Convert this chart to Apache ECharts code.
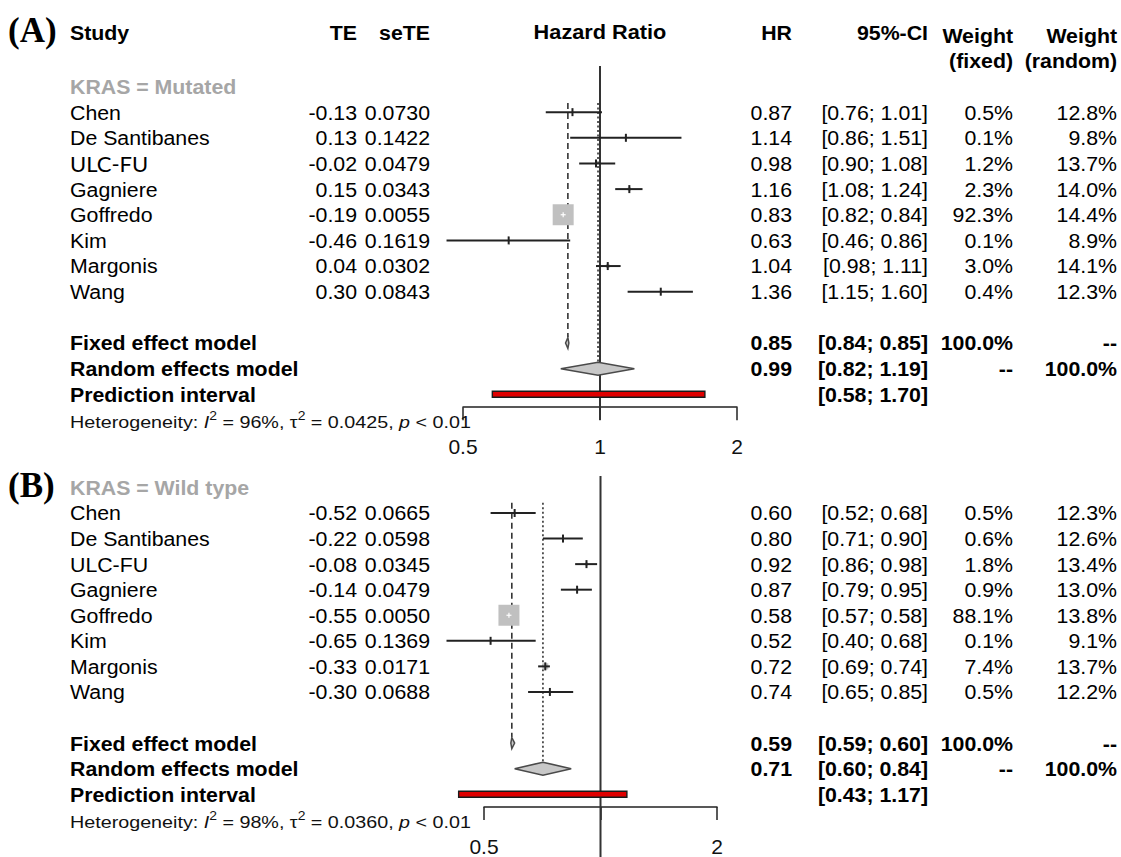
<!DOCTYPE html>
<html><head><meta charset="utf-8">
<script src="https://cdn.jsdelivr.net/npm/echarts@6/dist/echarts.min.js"></script>
<style>html,body{margin:0;padding:0;background:#fff}#c{width:1121px;height:857px}</style>
</head><body><div id="c"></div><script>
// ---------------- DATA ----------------
const studies = ['Chen', 'De Santibanes', 'ULC-FU', 'Gagniere', 'Goffredo', 'Kim', 'Margonis', 'Wang'];
const groupLabels = ['KRAS = Mutated', 'KRAS = Wild type'];
const panelTags = ['(A)', '(B)'];
const headerTexts = ['Study', 'TE', 'seTE', 'Hazard Ratio', 'HR', '95%-CI', 'Weight', '(fixed)', 'Weight', '(random)'];
const summaryLabels = ['Fixed effect model', 'Random effects model', 'Prediction interval'];

// KRAS = Mutated
const mutTE = [-0.13, 0.13, -0.02, 0.15, -0.19, -0.46, 0.04, 0.30];
const mutSeTE = [0.0730, 0.1422, 0.0479, 0.0343, 0.0055, 0.1619, 0.0302, 0.0843];
const mutHR = [0.87, 1.14, 0.98, 1.16, 0.83, 0.63, 1.04, 1.36];
const mutLo = [0.76, 0.86, 0.90, 1.08, 0.82, 0.46, 0.98, 1.15];
const mutHi = [1.01, 1.51, 1.08, 1.24, 0.84, 0.86, 1.11, 1.60];
const mutWFixed = [0.5, 0.1, 1.2, 2.3, 92.3, 0.1, 3.0, 0.4];
const mutWRandom = [12.8, 9.8, 13.7, 14.0, 14.4, 8.9, 14.1, 12.3];
const mutFixed = [0.85, 0.84, 0.85];
const mutRandom = [0.99, 0.82, 1.19];
const mutPred = [0.58, 1.70];
const mutHet = ['96%', '0.0425', '< 0.01'];

// KRAS = Wild type
const wildTE = [-0.52, -0.22, -0.08, -0.14, -0.55, -0.65, -0.33, -0.30];
const wildSeTE = [0.0665, 0.0598, 0.0345, 0.0479, 0.0050, 0.1369, 0.0171, 0.0688];
const wildHR = [0.60, 0.80, 0.92, 0.87, 0.58, 0.52, 0.72, 0.74];
const wildLo = [0.52, 0.71, 0.86, 0.79, 0.57, 0.40, 0.69, 0.65];
const wildHi = [0.68, 0.90, 0.98, 0.95, 0.58, 0.68, 0.74, 0.85];
const wildWFixed = [0.5, 0.6, 1.8, 0.9, 88.1, 0.1, 7.4, 0.5];
const wildWRandom = [12.3, 12.6, 13.4, 13.0, 13.8, 9.1, 13.7, 12.2];
const wildFixed = [0.59, 0.59, 0.60];
const wildRandom = [0.71, 0.60, 0.84];
const wildPred = [0.43, 1.17];
const wildHet = ['98%', '0.0360', '< 0.01'];

const totalWeight = '100.0%';
const tickValues = [0.5, 1, 2];
const tickLabelsA = [0.5, 1, 2];
const tickLabelsB = [0.5, 2];

// ---------------- LAYOUT ----------------
const ROW = 25.65;
const FONT = '"Liberation Sans", Arial, Helvetica, sans-serif';
const FS = 21;
const SX = 1.015;
const COL = {tag: 8, study: 70, te: 357, se: 430, hr: 792, ci: 928, wf: 1013, wr: 1117};
const R_FIXED = 10, R_RANDOM = 11, R_PRED = 12, R_HET = 13.08;
const BOX_MAX = 21;

const panels = [
  {te: mutTE, se: mutSeTE, hr: mutHR, lo: mutLo, hi: mutHi, wf: mutWFixed, wr: mutWRandom,
   fixed: mutFixed, random: mutRandom, pred: mutPred, het: mutHet, group: groupLabels[0], tag: panelTags[0],
   header: true, tickLabels: tickLabelsA,
   y0: 86.5, yMin: -3, yMax: 12.5, left: 463, width: 274,
   nullTop: -0.8, nullBottom: 13.0, refTop: 0.64, tagRow: -2.2},
  {te: wildTE, se: wildSeTE, hr: wildHR, lo: wildLo, hi: wildHi, wf: wildWFixed, wr: wildWRandom,
   fixed: wildFixed, random: wildRandom, pred: wildPred, het: wildHet, group: groupLabels[1], tag: panelTags[1],
   header: false, tickLabels: tickLabelsB,
   y0: 487.5, yMin: -1, yMax: 12.5, left: 484, width: 233,
   nullTop: -0.45, nullBottom: 14.6, refTop: 0.6, tagRow: -0.08}
];

const fmtCI = (a, b) => '[' + a.toFixed(2) + '; ' + b.toFixed(2) + ']';

function buildTexts(p) {
  const T = [];
  const add = (row, x, text, o) => T.push(Object.assign({row, x, text}, o || {}));
  add(p.tagRow, COL.tag, p.tag, {family: '"Liberation Serif", "Times New Roman", serif', size: 35, bold: true, sx: 1});
  if (p.header) {
    const hr = -2.12;
    add(hr, COL.study, headerTexts[0], {bold: true});
    add(hr, COL.te, headerTexts[1], {bold: true, align: 'right'});
    add(hr, COL.se, headerTexts[2], {bold: true, align: 'right'});
    add(hr, null, headerTexts[3], {bold: true, align: 'center', atValue: 1, sx: 1.035});
    add(hr, COL.hr, headerTexts[4], {bold: true, align: 'right'});
    add(hr, COL.ci, headerTexts[5], {bold: true, align: 'right'});
    add(-2.0, COL.wf, headerTexts[6], {bold: true, align: 'right'});
    add(-1.0, COL.wf, headerTexts[7], {bold: true, align: 'right'});
    add(-2.0, COL.wr, headerTexts[8], {bold: true, align: 'right'});
    add(-1.0, COL.wr, headerTexts[9], {bold: true, align: 'right'});
  }
  add(0, COL.study, p.group, {bold: true, color: '#a6a6a6'});
  studies.forEach((s, i) => {
    const r = i + 1;
    const special = p.header && s === 'ULC-FU';
    add(r, COL.study, s, special ? {family: 'Lato, "Open Sans", sans-serif', size: 22, sx: 1} : {});
    add(r, COL.te, p.te[i].toFixed(2), {align: 'right'});
    add(r, COL.se, p.se[i].toFixed(4), {align: 'right'});
    add(r, COL.hr, p.hr[i].toFixed(2), {align: 'right'});
    add(r, COL.ci, fmtCI(p.lo[i], p.hi[i]), {align: 'right'});
    add(r, COL.wf, p.wf[i].toFixed(1) + '%', {align: 'right'});
    add(r, COL.wr, p.wr[i].toFixed(1) + '%', {align: 'right'});
  });
  add(R_FIXED, COL.study, summaryLabels[0], {bold: true});
  add(R_FIXED, COL.hr, p.fixed[0].toFixed(2), {bold: true, align: 'right'});
  add(R_FIXED, COL.ci, fmtCI(p.fixed[1], p.fixed[2]), {bold: true, align: 'right'});
  add(R_FIXED, COL.wf, totalWeight, {bold: true, align: 'right'});
  add(R_FIXED, COL.wr, '--', {bold: true, align: 'right'});
  add(R_RANDOM, COL.study, summaryLabels[1], {bold: true});
  add(R_RANDOM, COL.hr, p.random[0].toFixed(2), {bold: true, align: 'right'});
  add(R_RANDOM, COL.ci, fmtCI(p.random[1], p.random[2]), {bold: true, align: 'right'});
  add(R_RANDOM, COL.wf, '--', {bold: true, align: 'right'});
  add(R_RANDOM, COL.wr, totalWeight, {bold: true, align: 'right'});
  add(R_PRED, COL.study, summaryLabels[2], {bold: true});
  add(R_PRED, COL.ci, fmtCI(p.pred[0], p.pred[1]), {bold: true, align: 'right'});
  const hetText = '{n|Heterogeneity: }{i|I}{s|2}{n| = ' + p.het[0] + ', τ}{s|2}{n| = ' + p.het[1] + ', }{i|p}{n| ' + p.het[2] + '}';
  add(R_HET, COL.study, hetText, {sx: 1.16, rich: {
    n: {fontSize: 17, fontFamily: FONT, fill: '#111', lineHeight: 24},
    i: {fontSize: 17, fontFamily: FONT, fill: '#111', fontStyle: 'italic', lineHeight: 24},
    s: {fontSize: 12, fontFamily: FONT, fill: '#111', lineHeight: 12, verticalAlign: 'top'}
  }});
  return T;
}

// ---------------- RENDERERS ----------------
function refLineRender(params, api) {
  const x = api.value(0), t = api.value(1), b = api.value(2), k = api.value(3);
  const p1 = api.coord([x, t]), p2 = api.coord([x, b]);
  const y2 = k === 0 ? p2[1] : p2[1] - 6;
  const dash = k === 1 ? [6, 4] : (k === 2 ? [2, 2.5] : null);
  return {type: 'line', shape: {x1: p1[0], y1: p1[1], x2: p2[0], y2: y2},
    style: {stroke: '#333', lineWidth: k === 0 ? 2 : 1.6, lineDash: dash}};
}
function makeStudyRender(wMax) {
  return function (params, api) {
    const hr = api.value(0), lo = api.value(1), hi = api.value(2), row = api.value(3), w = api.value(4);
    const c = api.coord([hr, row]), a = api.coord([lo, row]), b = api.coord([hi, row]);
    const side = BOX_MAX * Math.sqrt(w / wMax);
    const inside = side > (b[0] - a[0]);
    const col = inside ? '#ffffff' : '#222';
    const tk = inside ? 2.5 : 4;
    const ch = [];
    if (side > 2) ch.push({type: 'rect', shape: {x: c[0] - side / 2, y: c[1] - side / 2, width: side, height: side}, style: {fill: '#c0c0c0'}});
    ch.push({type: 'line', shape: {x1: inside ? c[0] - 2.5 : a[0], y1: c[1], x2: inside ? c[0] + 2.5 : b[0], y2: c[1]}, style: {stroke: col, lineWidth: inside ? 1.2 : 2}});
    ch.push({type: 'line', shape: {x1: c[0], y1: c[1] - tk, x2: c[0], y2: c[1] + tk}, style: {stroke: col, lineWidth: inside ? 1.2 : 2}});
    return {type: 'group', children: ch};
  };
}
function diamondRender(params, api) {
  const e = api.coord([api.value(0), api.value(3)]), a = api.coord([api.value(1), api.value(3)]), b = api.coord([api.value(2), api.value(3)]);
  const h = params.dataIndex === 0 ? 5.5 : 6.5;
  const l = Math.min(a[0], e[0] - 1), r = Math.max(b[0], e[0] + 1);
  return {type: 'polygon', shape: {points: [[l, e[1]], [e[0], e[1] - h], [r, e[1]], [e[0], e[1] + h]]},
    style: {fill: '#c8c8c8', stroke: '#4a4a4a', lineWidth: 1.5}};
}
function predRender(params, api) {
  const a = api.coord([api.value(0), api.value(2)]), b = api.coord([api.value(1), api.value(2)]);
  return {type: 'rect', shape: {x: a[0], y: a[1] - 3, width: b[0] - a[0], height: 6},
    style: {fill: '#e00000', stroke: '#1a1a1a', lineWidth: 1.4}};
}
function makeTextRender(items) {
  return function (params, api) {
    const t = items[params.dataIndex];
    const pt = api.coord([t.atValue || 1, api.value(1)]);
    const x = t.atValue ? pt[0] : t.x;
    const style = {text: t.text, fill: t.color || '#000', fontSize: t.size || FS,
      fontFamily: t.family || FONT, fontWeight: t.bold ? 'bold' : 'normal',
      align: t.align || 'left', verticalAlign: 'middle'};
    if (t.rich) style.rich = t.rich;
    const k = t.sx != null ? t.sx : SX;
    return {type: 'text', x: x, y: pt[1], scaleX: k, scaleY: 1, style: style};
  };
}

// ---------------- OPTION ----------------
const grid = [], xAxis = [], yAxis = [], series = [];
panels.forEach((p, gi) => {
  grid.push({left: p.left, width: p.width, top: p.y0 + p.yMin * ROW, height: (p.yMax - p.yMin) * ROW});
  xAxis.push({gridIndex: gi, type: 'log', logBase: 10, min: 0.5, max: 2,
    axisLine: {show: true, onZero: false, lineStyle: {color: '#222', width: 1.5}},
    axisTick: {show: true, customValues: tickValues, length: 13, lineStyle: {color: '#222', width: 1.5}},
    minorTick: {show: false}, splitLine: {show: false},
    axisLabel: {customValues: p.tickLabels, margin: 29, fontSize: 21, color: '#111', fontFamily: FONT,
      formatter: v => String(+(+v).toPrecision(6))}});
  yAxis.push({gridIndex: gi, type: 'value', inverse: true, min: p.yMin, max: p.yMax, show: false});
  const base = {type: 'custom', xAxisIndex: gi, yAxisIndex: gi, clip: false, silent: true, animation: false};
  series.push(Object.assign({}, base, {z: 1, renderItem: refLineRender,
    data: [[1, p.nullTop, p.nullBottom, 0], [p.fixed[0], p.refTop, R_FIXED, 1], [p.random[0], p.refTop, R_RANDOM, 2]]}));
  const wMax = Math.max.apply(null, p.wf);
  series.push(Object.assign({}, base, {z: 2, renderItem: makeStudyRender(wMax),
    data: studies.map((s, i) => [p.hr[i], p.lo[i], p.hi[i], i + 1, p.wf[i]])}));
  series.push(Object.assign({}, base, {z: 3, renderItem: diamondRender,
    data: [[p.fixed[0], p.fixed[1], p.fixed[2], R_FIXED], [p.random[0], p.random[1], p.random[2], R_RANDOM]]}));
  series.push(Object.assign({}, base, {z: 3, renderItem: predRender, data: [[p.pred[0], p.pred[1], R_PRED]]}));
  const items = buildTexts(p);
  series.push(Object.assign({}, base, {z: 4, renderItem: makeTextRender(items), data: items.map(t => [1, t.row])}));
});

const chart = echarts.init(document.getElementById('c'), null, {renderer: 'svg'});
chart.setOption({backgroundColor: '#fff', animation: false, grid, xAxis, yAxis, series});
</script></body></html>
